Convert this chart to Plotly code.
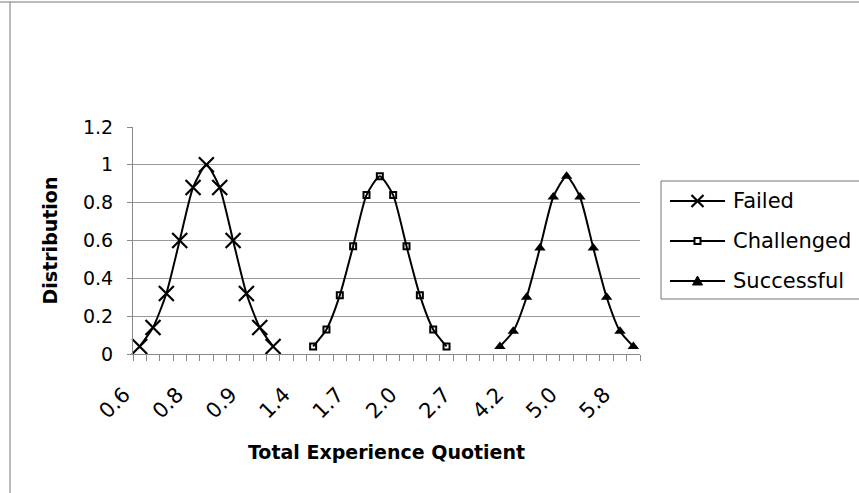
import plotly.graph_objects as go

# ---- data ----
tick_labels = ["0.6", "0.8", "0.9", "1.4", "1.7", "2.0", "2.7", "4.2", "5.0", "5.8"]
n_categories = 38
label_every = 4

failed = [0.04, 0.14, 0.32, 0.60, 0.88, 1.00, 0.88, 0.60, 0.32, 0.14, 0.04]
challenged = [0.04, 0.13, 0.31, 0.57, 0.84, 0.94, 0.84, 0.57, 0.31, 0.13, 0.04]
successful = [0.04, 0.12, 0.30, 0.56, 0.83, 0.94, 0.83, 0.56, 0.30, 0.12, 0.04]
failed_start = 0
challenged_start = 13
successful_start = 27
series_names = ["Failed", "Challenged", "Successful"]
sample_sizes = ["n=11", "n=12", "n=26"]

FONT = "DejaVu Sans"
W, H = 859, 493
L, R, T, B = 133, 219, 127, 139
PW, PH = W - L - R, H - T - B


def px_x(p):
    return (p - L) / PW


def px_y(p):
    return (H - B - p) / PH


def idx(start, vals):
    return list(range(start, start + len(vals)))


markers = [
    dict(symbol="x-thin", size=15, line=dict(width=2.2, color="black"), color="black"),
    dict(symbol="square-open", size=6, line=dict(width=2, color="black"), color="black"),
    dict(symbol="triangle-up", size=10, color="black"),
]
starts = [failed_start, challenged_start, successful_start]
values = [failed, challenged, successful]

fig = go.Figure()
for name, start, vals, marker in zip(series_names, starts, values, markers):
    fig.add_trace(go.Scatter(
        x=idx(start, vals), y=vals, name=name, mode="lines+markers",
        line=dict(color="black", width=2, shape="spline", smoothing=0.6),
        marker=marker, cliponaxis=False, showlegend=False,
    ))

# sample size annotations above each peak
for start, vals, label in zip(starts, values, sample_sizes):
    peak = vals.index(max(vals))
    fig.add_annotation(x=start + peak, y=1.235, text=label, showarrow=False,
                       xanchor="center", yanchor="middle",
                       font=dict(family=FONT, size=19, color="black"))

# ---- custom legend (Excel style: long line sample, boxed) ----
leg_left, leg_right, leg_top, leg_bottom = 661, 880, 181, 299
leg_rows = [201, 241, 281]
leg_line_x0, leg_line_x1, leg_text_x = 670, 725, 731
legend_paths = [
    ("M-6,-6 L6,6 M-6,6 L6,-6", "rgba(0,0,0,0)", 2.2),
    ("M-3,-3 L3,-3 L3,3 L-3,3 Z", "white", 2),
    ("M-5,-4 L5,-4 L0,5 Z", "black", 1),
]
fig.add_shape(type="rect", xref="paper", yref="paper",
              x0=px_x(leg_left), x1=px_x(leg_right), y0=px_y(leg_bottom), y1=px_y(leg_top),
              line=dict(color="#777", width=1), fillcolor="white", layer="below")
for name, row, (path, fill, lw) in zip(series_names, leg_rows, legend_paths):
    fig.add_shape(type="line", xref="paper", yref="paper",
                  x0=px_x(leg_line_x0), x1=px_x(leg_line_x1), y0=px_y(row), y1=px_y(row),
                  line=dict(color="black", width=2))
    fig.add_shape(type="path", xref="paper", yref="paper",
                  xsizemode="pixel", ysizemode="pixel",
                  xanchor=px_x((leg_line_x0 + leg_line_x1) / 2), yanchor=px_y(row),
                  path=path, fillcolor=fill, line=dict(color="black", width=lw))
    fig.add_annotation(xref="paper", yref="paper", x=px_x(leg_text_x), y=px_y(row),
                       text=name, showarrow=False, xanchor="left", yanchor="middle",
                       font=dict(family=FONT, size=21, color="black"))

# ticks sit on category boundaries; labels on every 4th category
boundaries = [i - 0.5 for i in range(n_categories + 1)]
boundary_text = []
for i in range(n_categories + 1):
    k = i // label_every
    if i % label_every == 0 and k < len(tick_labels):
        boundary_text.append(tick_labels[k])
    else:
        boundary_text.append("")
half_cat_px = PW / n_categories / 2

fig.update_layout(
    width=W, height=H,
    margin=dict(l=L, r=R, t=T, b=B),
    paper_bgcolor="white", plot_bgcolor="white",
    font=dict(family=FONT, color="black"),
    showlegend=False,
    xaxis=dict(
        range=[-0.5, n_categories - 0.5], showgrid=False, zeroline=False,
        showline=True, linecolor="#888", linewidth=1,
        tickmode="array", tickvals=boundaries, ticktext=boundary_text,
        ticks="outside", ticklen=6, tickcolor="#888",
        tickangle=-45, ticklabelstandoff=13, ticklabelshift=int(round(half_cat_px - 16)),
        tickfont=dict(family=FONT, size=21, color="black"),
        title=dict(text="<b>Total Experience Quotient</b>", standoff=23,
                   font=dict(family=FONT, size=19, color="black")),
    ),
    yaxis=dict(
        range=[0, 1.2], tickmode="array", tickvals=[0, 0.2, 0.4, 0.6, 0.8, 1.0, 1.2],
        ticktext=["0", "0.2", "0.4", "0.6", "0.8", "1", "1.2"],
        showgrid=True, gridcolor="#999", gridwidth=1, zeroline=False,
        showline=True, linecolor="#888", linewidth=1,
        ticks="outside", ticklen=5, tickcolor="#888", ticklabelstandoff=10,
        tickfont=dict(family=FONT, size=19, color="black"),
        title=dict(text="<b>Distribution</b>", standoff=20,
                   font=dict(family=FONT, size=19, color="black")),
    ),
)

# chart area border fragments (top and left)
fig.add_shape(type="line", xref="paper", yref="paper",
              x0=px_x(0), x1=px_x(W), y0=px_y(2), y1=px_y(2),
              line=dict(color="#777", width=1))
fig.add_shape(type="line", xref="paper", yref="paper",
              x0=px_x(10), x1=px_x(10), y0=px_y(2), y1=px_y(H),
              line=dict(color="#777", width=1))

fig.write_html("out.html")
